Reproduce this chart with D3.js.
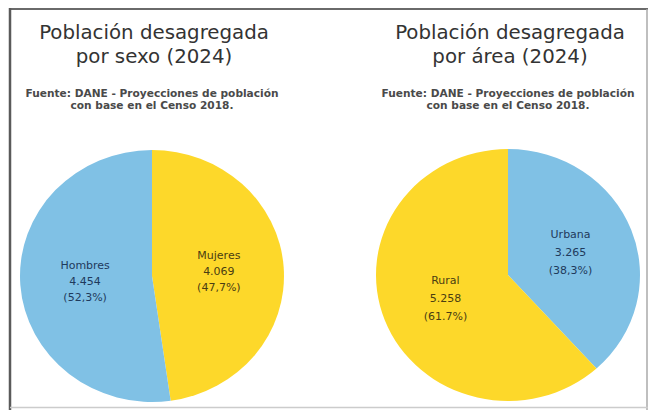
<!DOCTYPE html>
<html>
<head>
<meta charset="utf-8">
<script src="https://cdn.jsdelivr.net/npm/d3@7"></script>
<style>
  body { margin: 0; background: #fff; }
  text { font-family: "DejaVu Sans", sans-serif; }
</style>
</head>
<body>
<svg width="650" height="410"></svg>
<script>
// sexo
const sexoNames = ["Mujeres", "Hombres"];
const sexoValues = [4069, 4454];
const sexoPct = ["(47,7%)", "(52,3%)"];
// area
const areaNames = ["Urbana", "Rural"];
const areaValues = [3265, 5258];
const areaPct = ["(38,3%)", "(61.7%)"];

const titles = [
  ["Población desagregada", "por sexo (2024)"],
  ["Población desagregada", "por área (2024)"]
];
const source = ["Fuente: DANE - Proyecciones de población", "con base en el Censo 2018."];

const colorOf = { Mujeres: "#fdd82a", Hombres: "#80c1e5", Urbana: "#80c1e5", Rural: "#fdd82a" };
const textOf = { Mujeres: "#4a3d12", Hombres: "#1f3a5c", Urbana: "#1f3a5c", Rural: "#4a3d12" };

const svg = d3.select("svg");
const fmt = d3.formatLocale({ decimal: ",", thousands: ".", grouping: [3], currency: ["", ""] }).format(",d");

// frame
svg.append("line").attr("x1", 9).attr("x2", 648).attr("y1", 9).attr("y2", 9)
  .attr("stroke", "#6a6a6a").attr("stroke-width", 2);
svg.append("line").attr("x1", 10).attr("x2", 10).attr("y1", 8).attr("y2", 410)
  .attr("stroke", "#5a5a5a").attr("stroke-width", 2.5);
svg.append("line").attr("x1", 647).attr("x2", 647).attr("y1", 9).attr("y2", 410)
  .attr("stroke", "#aaa").attr("stroke-width", 1.5);
svg.append("line").attr("x1", 10).attr("x2", 648).attr("y1", 407.5).attr("y2", 407.5)
  .attr("stroke", "#ccc").attr("stroke-width", 1.5);

const panels = [
  { names: sexoNames, values: sexoValues, pct: sexoPct, cx: 152, cy: 276, tx: 154, title: titles[0], gap: 16 },
  { names: areaNames, values: areaValues, pct: areaPct, cx: 508, cy: 275, tx: 510, title: titles[1], gap: 18 }
];

const ry = 126, rx = 132;
const pie = d3.pie().sort(null);
const arc = d3.arc().innerRadius(0).outerRadius(ry);
const labelArc = d3.arc().innerRadius(64).outerRadius(64);

panels.forEach(p => {
  const g = svg.append("g");

  g.selectAll(".title")
    .data(p.title)
    .enter()
    .append("text")
    .attr("x", p.tx)
    .attr("y", (d, i) => 39 + i * 24)
    .attr("text-anchor", "middle")
    .attr("font-size", 19.8)
    .attr("fill", "#333")
    .text(d => d);

  g.selectAll(".src")
    .data(source)
    .enter()
    .append("text")
    .attr("x", p.tx - 2)
    .attr("y", (d, i) => 97 + i * 12)
    .attr("text-anchor", "middle")
    .attr("font-size", 10.6)
    .attr("font-weight", "bold")
    .attr("fill", "#4a4a4a")
    .text(d => d);

  const arcs = pie(p.values);

  g.append("g")
    .attr("transform", `translate(${p.cx},${p.cy}) scale(${rx / ry},1)`)
    .selectAll("path")
    .data(arcs)
    .enter()
    .append("path")
    .attr("d", arc)
    .attr("fill", (d, i) => colorOf[p.names[i]]);

  arcs.forEach((a, i) => {
    const [lx, ly] = labelArc.centroid(a);
    const lines = [p.names[i], fmt(p.values[i]), p.pct[i]];
    g.append("g")
      .selectAll("text")
      .data(lines)
      .enter()
      .append("text")
      .attr("x", p.cx + lx * rx / ry)
      .attr("y", (d, j) => p.cy + ly + (j - 1) * p.gap + 4)
      .attr("text-anchor", "middle")
      .attr("font-size", 11)
      .attr("fill", textOf[p.names[i]])
      .text(d => d);
  });
});
</script>
</body>
</html>
